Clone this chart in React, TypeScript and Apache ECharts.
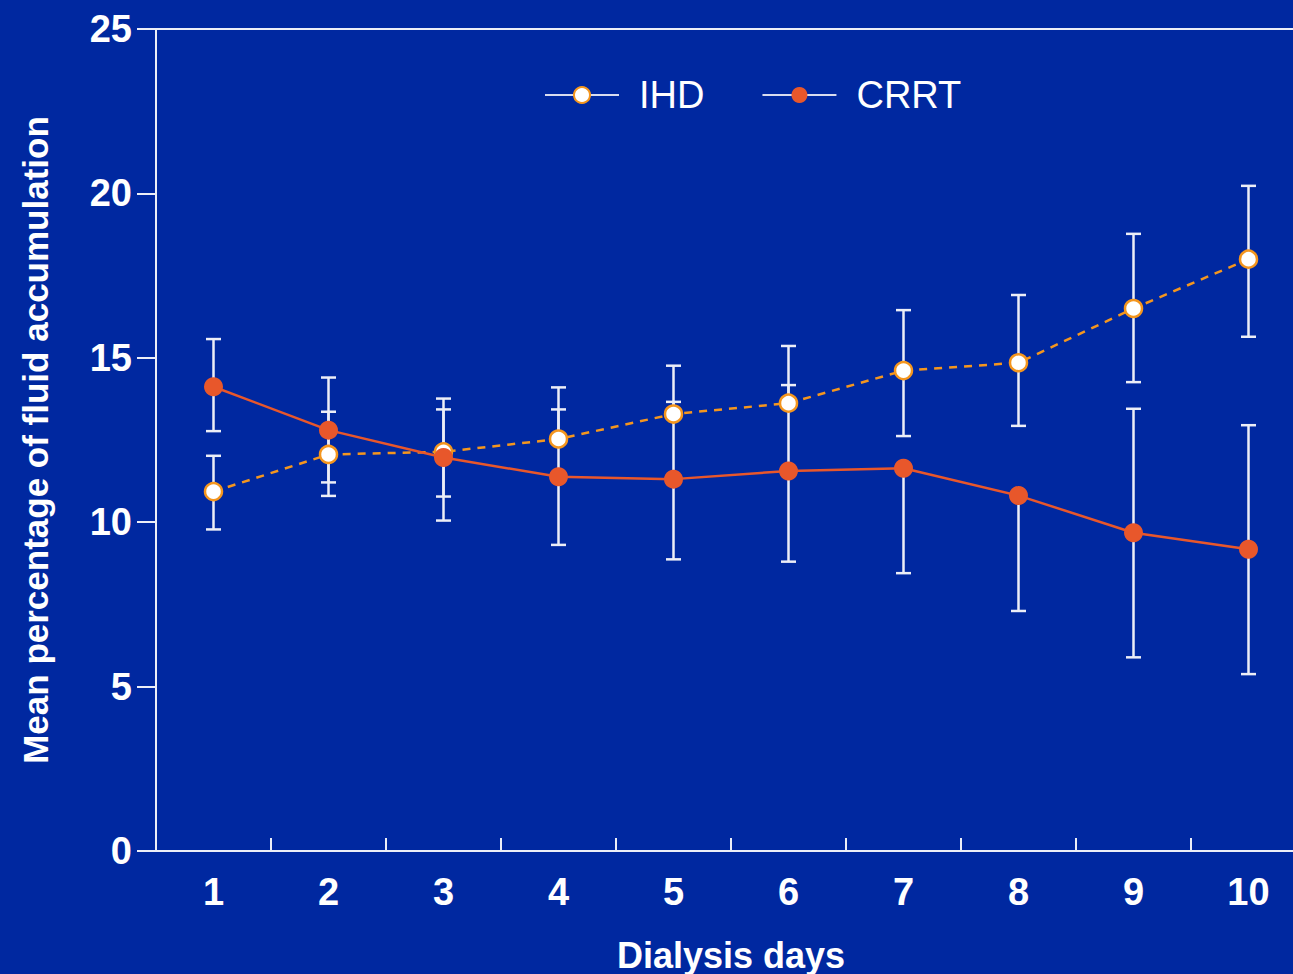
import React, { useEffect, useRef } from 'react';
import * as echarts from 'echarts';

const days = ['1', '2', '3', '4', '5', '6', '7', '8', '9', '10'];
const ihdMean = [10.93, 12.06, 12.14, 12.53, 13.29, 13.62, 14.61, 14.85, 16.5, 18.0];
const ihdHigh = [12.02, 13.36, 13.43, 14.1, 14.76, 15.36, 16.45, 16.91, 18.77, 20.23];
const ihdLow: (number | null)[] = [9.78, 10.8, 10.78, null, null, null, 12.62, 12.93, 14.26, 15.64];
const crrtMean = [14.12, 12.8, 11.97, 11.38, 11.31, 11.56, 11.64, 10.81, 9.68, 9.18];
const crrtHigh: (number | null)[] = [15.57, 14.4, 13.76, 13.43, 13.66, 14.17, null, null, 13.45, 12.95];
const crrtLow = [12.77, 11.21, 10.05, 9.31, 8.87, 8.8, 8.45, 7.3, 5.89, 5.38];
const yMin = 0;
const yMax = 25;
const yStep = 5;

const BG = '#0028a0';
const WHITE = '#ffffff';
const AXIS = '#eceef7';
const IHD_COLOR = '#f4961e';
const CRRT_COLOR = '#e8572b';
const FONT = '"Liberation Sans", Arial, sans-serif';

function errData(mean: number[], lo: (number | null)[], hi: (number | null)[]) {
  return mean.map((m, i) => [i, lo[i] == null ? '-' : lo[i], hi[i] == null ? '-' : hi[i], m]);
}

function errRender(params: any, api: any) {
  const x = api.value(0);
  const lo = api.value(1);
  const hi = api.value(2);
  const m = api.value(3);
  const pm = api.coord([x, m]);
  const cap = 7.5;
  const style = { stroke: AXIS, lineWidth: 2.5 };
  const children: any[] = [];
  if (!isNaN(hi)) {
    const ph = api.coord([x, hi]);
    children.push({ type: 'line', shape: { x1: pm[0], y1: pm[1], x2: ph[0], y2: ph[1] }, style });
    children.push({ type: 'line', shape: { x1: ph[0] - cap, y1: ph[1], x2: ph[0] + cap, y2: ph[1] }, style });
  }
  if (!isNaN(lo)) {
    const pl = api.coord([x, lo]);
    children.push({ type: 'line', shape: { x1: pm[0], y1: pm[1], x2: pl[0], y2: pl[1] }, style });
    children.push({ type: 'line', shape: { x1: pl[0] - cap, y1: pl[1], x2: pl[0] + cap, y2: pl[1] }, style });
  }
  return { type: 'group', children };
}

export default function App() {
  const ref = useRef<HTMLDivElement>(null);
  useEffect(() => {
    if (!ref.current) return;
    const chart = echarts.init(ref.current, null, { renderer: 'svg' });
    chart.setOption({
      animation: false,
      backgroundColor: BG,
      textStyle: { fontFamily: FONT },
      grid: { left: 156, width: 1150, top: 29, height: 822, containLabel: false, outerBoundsMode: 'none' },
      legend: {
        left: 539,
        top: 71,
        itemWidth: 74,
        itemHeight: 20,
        itemGap: 57,
        lineStyle: { color: '#d8dcef', width: 2, type: 'solid' },
        textStyle: { color: WHITE, fontSize: 38, fontFamily: FONT, padding: [0, 0, 0, 15] },
        data: ['IHD', 'CRRT'],
      },
      xAxis: [
        {
          type: 'category',
          data: days,
          boundaryGap: true,
          axisLine: { lineStyle: { color: AXIS, width: 2 } },
          axisTick: { show: true, inside: true, length: 13, lineStyle: { color: AXIS, width: 2 } },
          axisLabel: { color: WHITE, fontSize: 38, fontWeight: 'bold', margin: 22, fontFamily: FONT },
          name: 'Dialysis days',
          nameLocation: 'middle',
          nameGap: 86,
          nameTextStyle: { color: WHITE, fontSize: 36, fontWeight: 'bold', fontFamily: FONT },
          splitLine: { show: false },
        },
        {
          type: 'category',
          data: days,
          position: 'top',
          axisLine: { show: true, lineStyle: { color: AXIS, width: 2 } },
          axisTick: { show: false },
          axisLabel: { show: false },
          splitLine: { show: false },
        },
      ],
      yAxis: {
        type: 'value',
        min: yMin,
        max: yMax,
        interval: yStep,
        axisLine: { show: true, lineStyle: { color: AXIS, width: 2 } },
        axisTick: { show: true, inside: false, length: 19, lineStyle: { color: AXIS, width: 2 } },
        axisLabel: { color: WHITE, fontSize: 38, fontWeight: 'bold', margin: 24, fontFamily: FONT },
        splitLine: { show: false },
        name: 'Mean percentage of fluid accumulation',
        nameLocation: 'middle',
        nameRotate: 90,
        nameGap: 103,
        nameTextStyle: { color: WHITE, fontSize: 35, fontWeight: 'bold', fontFamily: FONT },
      },
      series: [
        {
          type: 'custom',
          name: 'IHD err',
          renderItem: errRender,
          data: errData(ihdMean, ihdLow, ihdHigh),
          encode: { x: 0, y: [1, 2, 3] },
          z: 1,
          silent: true,
        },
        {
          type: 'custom',
          name: 'CRRT err',
          renderItem: errRender,
          data: errData(crrtMean, crrtLow, crrtHigh),
          encode: { x: 0, y: [1, 2, 3] },
          z: 1,
          silent: true,
        },
        {
          type: 'line',
          name: 'IHD',
          data: ihdMean,
          symbol: 'circle',
          symbolSize: 17,
          lineStyle: { color: IHD_COLOR, width: 2.5, type: [8, 7] },
          itemStyle: { color: WHITE, borderColor: IHD_COLOR, borderWidth: 2.5 },
          z: 3,
        },
        {
          type: 'line',
          name: 'CRRT',
          data: crrtMean,
          symbol: 'circle',
          symbolSize: 19,
          lineStyle: { color: CRRT_COLOR, width: 2.5 },
          itemStyle: { color: CRRT_COLOR },
          z: 4,
        },
      ],
    });
    return () => chart.dispose();
  }, []);
  return (
    <div
      ref={ref}
      style={{ position: 'absolute', left: 0, top: 0, width: 1293, height: 974 }}
    />
  );
}
